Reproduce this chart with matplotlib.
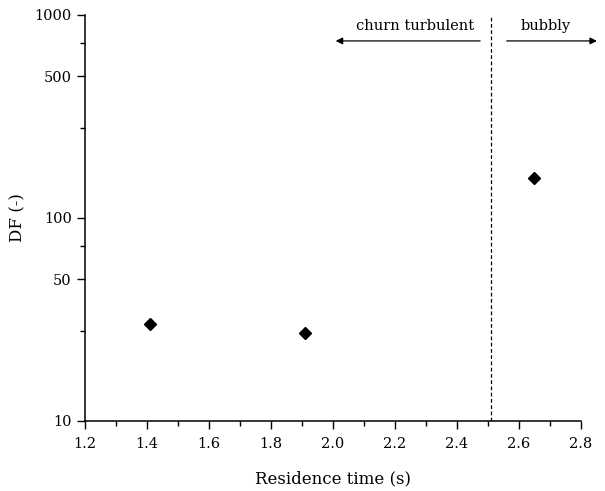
import numpy as np
import matplotlib
matplotlib.use("Agg")
import matplotlib.pyplot as plt
from matplotlib.ticker import FixedLocator, FixedFormatter, NullFormatter

# -----------------------------
# DATA
# -----------------------------
residence_time = [1.41, 1.91, 2.65]
df_values = [30, 27, 157]

transition_time = 2.51

y_major = [10, 50, 100, 500, 1000]
y_minor = [27.7, 72.5, 279, 726]

# -----------------------------
# STYLE
# -----------------------------
plt.rcParams['font.family'] = ['DejaVu Serif']
plt.rcParams['font.size'] = 10

fig = plt.figure(figsize=(6.05, 4.91), dpi=100)
ax = fig.add_axes([0.1405, 0.1426, 0.8195, 0.8269])

ax.plot(residence_time, df_values, linestyle='none', marker='D',
        markersize=6.5, color='black', clip_on=False, zorder=3)

ax.axvline(transition_time, color='black', lw=0.9, ls=(0, (3, 2)))

ax.set_yscale('log')
ax.set_xlim(1.2, 2.8)
ax.set_ylim(10, 1000)

ax.yaxis.set_major_locator(FixedLocator(y_major))
ax.yaxis.set_minor_locator(FixedLocator(y_minor))
ax.yaxis.set_major_formatter(FixedFormatter([str(v) for v in y_major]))
ax.yaxis.set_minor_formatter(NullFormatter())

ax.set_xticks(np.arange(1.2, 2.81, 0.2))
ax.set_xticklabels([f"{v:.1f}" for v in np.arange(1.2, 2.81, 0.2)])
ax.set_xticks(np.arange(1.3, 2.8, 0.2), minor=True)

for s in ['top', 'right']:
    ax.spines[s].set_visible(False)
for s in ['left', 'bottom']:
    ax.spines[s].set_linewidth(1.1)

ax.tick_params(which='major', direction='out', length=6, width=1.0, labelsize=10.5)
ax.tick_params(axis='x', which='major', pad=5.5)
ax.tick_params(which='minor', direction='out', length=3.5, width=1.0)

ax.set_xlabel("Residence time (s)", fontsize=12, labelpad=14)
ax.set_ylabel("DF (-)", fontsize=12, labelpad=6)

# regime arrows
ax.annotate("", xy=(2.0, 745), xytext=(2.484, 745),
            arrowprops=dict(arrowstyle='-|>', color='black', lw=0.9,
                            mutation_scale=10), annotation_clip=False)
ax.annotate("", xy=(2.861, 745), xytext=(2.552, 745),
            arrowprops=dict(arrowstyle='-|>', color='black', lw=0.9,
                            mutation_scale=10), annotation_clip=False)
ax.text(2.265, 880, "churn turbulent", ha='center', va='center', fontsize=10.5)
ax.text(2.686, 880, "bubbly", ha='center', va='center', fontsize=10.5)

plt.savefig("out.png", dpi=100)
